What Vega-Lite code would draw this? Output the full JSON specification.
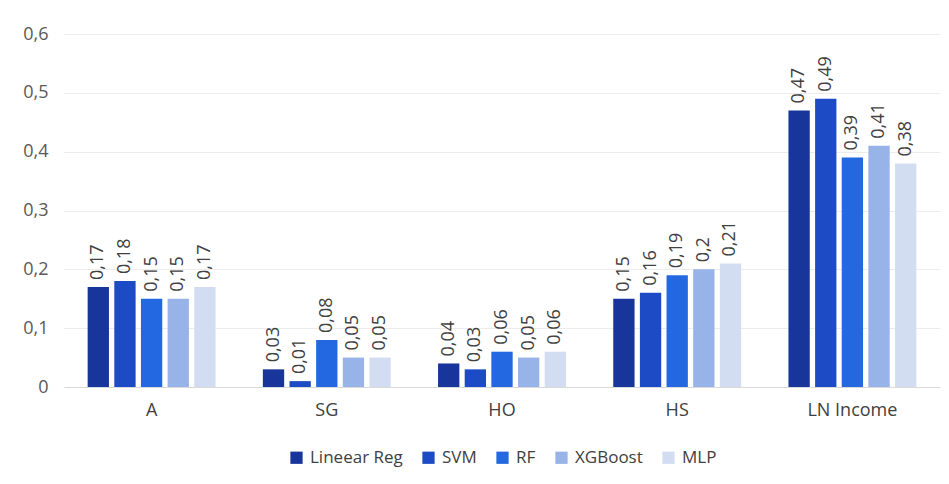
{
  "$schema": "https://vega.github.io/schema/vega-lite/v6.json",
  "width": 876,
  "height": 353,
  "padding": {"left": 22, "top": 25, "right": 10, "bottom": 5},
  "background": "white",
  "config": {
    "font": "Open Sans",
    "locale": {"number": {"decimal": ",", "thousands": ".", "grouping": [3], "currency": ["", " €"]}},
    "view": {"stroke": null},
    "axis": {"labelFont": "Open Sans", "labelFontSize": 18, "labelColor": "#595959", "title": null},
    "legend": {"layout": {"bottom": {"anchor": "middle"}}}
  },
  "data": {
    "values": [
      {"var": "A", "model": "Lineear Reg", "v": 0.17},
      {"var": "A", "model": "SVM", "v": 0.18},
      {"var": "A", "model": "RF", "v": 0.15},
      {"var": "A", "model": "XGBoost", "v": 0.15},
      {"var": "A", "model": "MLP", "v": 0.17},
      {"var": "SG", "model": "Lineear Reg", "v": 0.03},
      {"var": "SG", "model": "SVM", "v": 0.01},
      {"var": "SG", "model": "RF", "v": 0.08},
      {"var": "SG", "model": "XGBoost", "v": 0.05},
      {"var": "SG", "model": "MLP", "v": 0.05},
      {"var": "HO", "model": "Lineear Reg", "v": 0.04},
      {"var": "HO", "model": "SVM", "v": 0.03},
      {"var": "HO", "model": "RF", "v": 0.06},
      {"var": "HO", "model": "XGBoost", "v": 0.05},
      {"var": "HO", "model": "MLP", "v": 0.06},
      {"var": "HS", "model": "Lineear Reg", "v": 0.15},
      {"var": "HS", "model": "SVM", "v": 0.16},
      {"var": "HS", "model": "RF", "v": 0.19},
      {"var": "HS", "model": "XGBoost", "v": 0.2},
      {"var": "HS", "model": "MLP", "v": 0.21},
      {"var": "LN Income", "model": "Lineear Reg", "v": 0.47},
      {"var": "LN Income", "model": "SVM", "v": 0.49},
      {"var": "LN Income", "model": "RF", "v": 0.39},
      {"var": "LN Income", "model": "XGBoost", "v": 0.41},
      {"var": "LN Income", "model": "MLP", "v": 0.38}
    ]
  },
  "encoding": {
    "x": {
      "field": "var", "type": "nominal", "sort": null,
      "scale": {"paddingInner": 0.27, "paddingOuter": 0.135},
      "axis": {"labelAngle": 0, "ticks": false, "domainColor": "#d9d9d9", "labelPadding": 14, "labelColor": "#404040"}
    },
    "xOffset": {
      "field": "model", "type": "nominal", "sort": ["Lineear Reg", "SVM", "RF", "XGBoost", "MLP"],
      "scale": {"paddingInner": 0.2}
    },
    "y": {
      "field": "v", "type": "quantitative",
      "scale": {"domain": [0, 0.6]},
      "axis": {"tickCount": 6, "format": ".1~f", "domain": false, "ticks": false, "gridColor": "#ececec", "labelPadding": 16}
    }
  },
  "layer": [
    {
      "mark": {"type": "bar"},
      "encoding": {
        "color": {
          "field": "model", "type": "nominal", "sort": ["Lineear Reg", "SVM", "RF", "XGBoost", "MLP"],
          "scale": {"domain": ["Lineear Reg", "SVM", "RF", "XGBoost", "MLP"], "range": ["#17359a", "#1d4bc6", "#2368e0", "#97b3e8", "#d3ddf1"]},
          "legend": {
            "orient": "bottom", "direction": "horizontal", "title": null,
            "symbolType": "square", "symbolSize": 150, "symbolStrokeWidth": 0,
            "labelFontSize": 17, "labelColor": "#404040", "labelFont": "Open Sans",
            "columnPadding": 17, "labelOffset": 5, "offset": 30
          }
        }
      }
    },
    {
      "mark": {"type": "text", "angle": 270, "align": "left", "baseline": "middle", "dx": 7, "fontSize": 18, "color": "#404040"},
      "encoding": {
        "text": {"field": "v", "type": "quantitative", "format": "~g"}
      }
    }
  ]
}
